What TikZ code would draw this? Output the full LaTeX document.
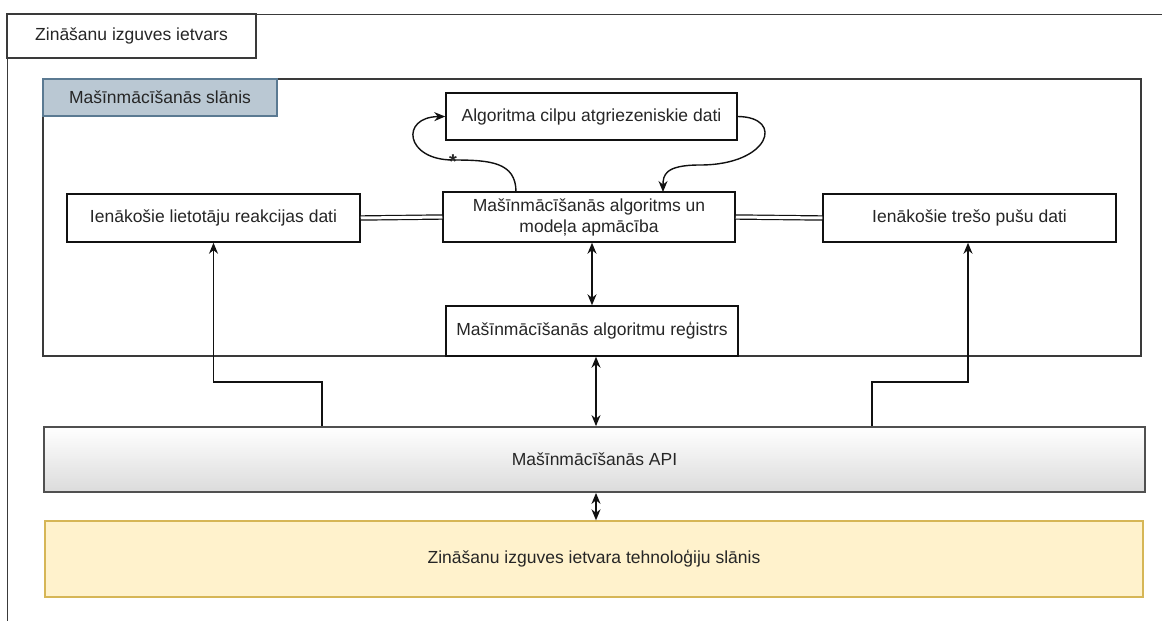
\documentclass[tikz,border=0pt]{standalone}
\usepackage{fontspec}
\setmainfont{Liberation Sans}
\usetikzlibrary{arrows.meta}
\definecolor{edge}{HTML}{111111}
\definecolor{frameline}{HTML}{3A3A3A}
\definecolor{labelfill}{HTML}{BAC8D3}
\definecolor{labeldraw}{HTML}{5B7A92}
\definecolor{techfill}{HTML}{FFF2CC}
\definecolor{techdraw}{HTML}{D6B656}
\definecolor{apidraw}{HTML}{505050}
\begin{document}
\begin{tikzpicture}[x=1pt,y=-1pt,
  every node/.style={font=\fontsize{17.5}{21}\selectfont, text=black!85, inner sep=0pt},
  box/.style={draw=edge, line width=1.5pt, fill=white, align=center},
  frame/.style={draw=frameline, line width=1.4pt},
  arr/.style={draw=edge, line width=1.4pt, -{Stealth[length=11pt,width=9pt]}},
  biarr/.style={draw=edge, line width=1.4pt, {Stealth[length=11pt,width=9pt]}-{Stealth[length=11pt,width=9pt]}},
  dbl/.style={draw=edge, line width=1.2pt, double=white, double distance=3pt}
]
\useasboundingbox (0,0) rectangle (1162,621);
\fill[white] (0,0) rectangle (1162,621);
\clip (0,0) rectangle (1162,621);

% outer framework container (runs past the page edge)
\node[frame, minimum width=1300pt, minimum height=800pt, anchor=north west] (outer) at (7,14) {};
\node[frame, fill=white, minimum width=249pt, minimum height=44pt] (outertitle) at (131.5,36) {Zināšanu izguves ietvars};

% machine learning layer
\node[frame, minimum width=1098pt, minimum height=277pt] (mllayer) at (592,217.5) {};
\node[draw=labeldraw, line width=1.4pt, fill=labelfill, minimum width=234pt, minimum height=37pt] (mltitle) at (160,97.5) {Mašīnmācīšanās slānis};

\node[box, minimum width=291pt, minimum height=47pt] (loop) at (591.5,116.5) {Algoritma cilpu atgriezeniskie dati};
\node[box, minimum width=292pt, minimum height=50pt] (train) at (589,217) {Mašīnmācīšanās algoritms un\\modeļa apmācība};
\node[box, minimum width=293pt, minimum height=48pt] (users) at (213.5,218) {Ienākošie lietotāju reakcijas dati};
\node[box, minimum width=293pt, minimum height=48pt] (third) at (969.5,218) {Ienākošie trešo pušu dati};
\node[box, minimum width=292pt, minimum height=50pt] (registry) at (592,331) {Mašīnmācīšanās algoritmu reģistrs};

% API and technology layer
\node[draw=apidraw, line width=1.8pt, top color=white, bottom color=black!14, minimum width=1101pt, minimum height=65pt] (api) at (594.5,459.5) {Mašīnmācīšanās API};
\node[draw=techdraw, line width=1.4pt, fill=techfill, minimum width=1098pt, minimum height=76pt] (tech) at (594,559) {Zināšanu izguves ietvara tehnoloģiju slānis};

% double links between inputs and training
\draw[dbl] (users.east) -- (train.west);
\draw[dbl] (train.east) -- (third.west);

% training / registry / API / technology links
\draw[biarr] (train.south -| registry) -- (registry.north);
\draw[biarr] ([xshift=4pt]registry.south) -- ([xshift=4pt]registry.south |- api.north);
\draw[biarr] ([xshift=4pt]registry.south |- api.south) -- ([xshift=4pt]registry.south |- tech.north);

% API feeds the two input nodes
\coordinate (lbend) at (322,382);
\coordinate (rbend) at (872,382);
\draw[arr] (lbend |- api.north) -- (lbend) -| (users.south);
\draw[arr] (rbend |- api.north) -- (rbend) -| ([xshift=-1.5pt]third.south);

% feedback loop
\coordinate (lstart) at (516,192);
\coordinate (lmid) at (453,160);
\draw[arr] (lstart) .. controls (516,162) and (490,160) .. (lmid)
  .. controls (405,160) and (400,117) .. (loop.west);
\node[font=\fontsize{20}{24}\selectfont\bfseries] (star) at (453,162) {*};
\coordinate (rmid) at (700,165);
\draw[arr] (loop.east) .. controls (785,117) and (770,165) .. (rmid)
  .. controls (665,165) and (663,175) .. (663,192);
\end{tikzpicture}
\end{document}
